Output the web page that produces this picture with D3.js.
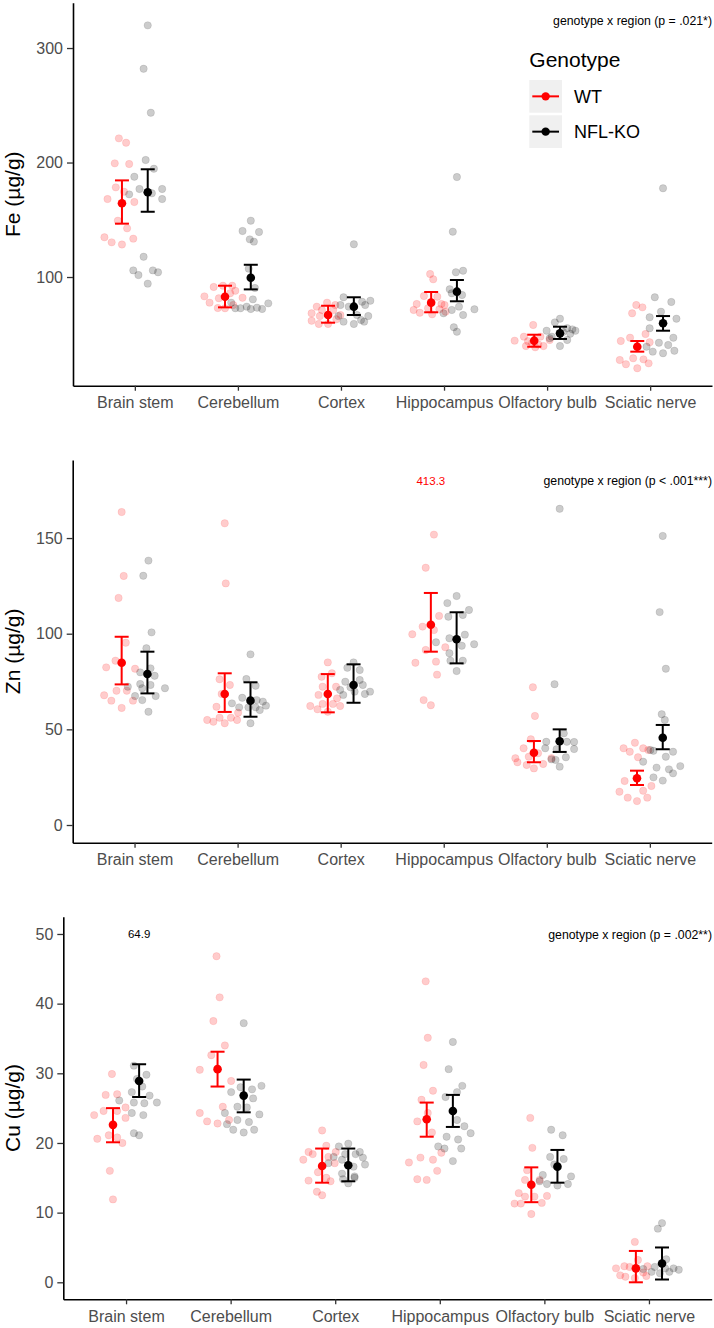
<!DOCTYPE html>
<html>
<head>
<meta charset="utf-8">
<script src="https://cdn.jsdelivr.net/npm/d3@7"></script>
<style>
body{margin:0;background:#fff;}
text{font-family:"Liberation Sans",Arial,sans-serif;}
</style>
</head>
<body>
<script>
// ---------- categories ----------
const regions = ["Brain stem","Cerebellum","Cortex","Hippocampus","Olfactory bulb","Sciatic nerve"];
const genotypes = ["WT","NFL-KO"];
const genotypeColors = ["#ff0000","#000000"];

// ---------- Fe ----------
const feTicks = [100,200,300];
const feDomain = [5.07,339.6];
const feWT = [
 [221.1,217.3,199.3,198.7,178.3,174.5,168.1,165.5,149.2,142.5,134.7,130.3,128.4,133.5],
 [91.3,92.4,92.4,88.0,83.1,81.4,77.6,72.9,72.7,75.5,81.9,85.8],
 [74.1,77.6,75.5,68.3,71.2,61.8,59.0,59.0,63.1,66.8,71.2,65.9],
 [102.6,98.0,83.4,82.8,76.4,76.4,71.2,68.8,67.4,71.8,72.7,75.5,69.7],
 [58.1,44.4,47.9,39.7,38.6,39.7,47.9,45.0,42.1,44.0,41.0],
 [75.5,73.5,68.3,44.1,47.0,50.2,43.0,27.5,23.8,29.0,20.3,28.1,24.6]
];
const feWTJitter = [
 [-.03,.04,-.07,.07,-.06,.02,-.14,.12,-.04,.05,-.17,-.10,.00,.11],
 [-.11,-.02,.07,.10,-.20,-.06,-.15,-.07,.00,.08,.17,.05],
 [-.11,-.01,.07,-.16,-.06,-.16,-.09,.00,.08,.12,.05,-.08],
 [-.01,.02,-.07,.06,-.14,.10,-.17,-.11,.01,.08,-.03,.13,.14],
 [-.01,-.19,-.10,-.08,.01,.09,.06,.15,-.02,-.06,.04],
 [-.01,.05,-.05,-.16,-.07,.08,.12,-.17,-.11,-.04,.00,.06,.11]
];
const feKO = [
 [319.8,281.9,243.5,202.2,194.6,187.6,176.9,176.9,172.2,173.1,168.1,117.7,105.8,101.7,105.8,104.1,94.2],
 [149.2,140.2,139.3,132.9,130.9,107.3,90.4,80.5,77.6,72.7,72.7,74.1,72.1,73.2,72.1,77.0],
 [128.6,82.3,79.3,78.4,74.1,75.5,75.5,65.9,62.4,59.0,61.0,65.9,66.8,61.0],
 [187.3,139.6,105.5,104.1,89.3,84.3,85.8,71.8,68.3,71.2,66.8,74.1,56.1,52.2],
 [63.6,60.4,53.1,54.3,53.1,55.3,46.5,45.0,39.7,47.9,50.5,52.0],
 [177.5,82.3,78.2,69.7,64.8,63.6,55.2,47.0,42.6,40.6,34.8,33.4,35.6,39.1]
];
const feKOJitter = [
 [.00,-.04,.03,-.02,.06,-.13,-.08,.14,-.18,.04,.14,-.04,-.14,-.09,.05,.10,.00],
 [.00,-.08,.08,-.01,.03,-.02,.04,.02,-.19,-.15,-.10,-.04,.00,.06,.11,.17],
 [.00,-.10,.16,.08,-.05,.11,-.13,.14,.07,.00,-.10,-.15,.03,.10],
 [.00,-.04,.06,-.01,-.07,.05,-.05,.17,-.13,-.05,.06,.02,-.03,.00],
 [.00,-.05,-.13,.12,.15,.07,-.10,.07,.00,-.08,.10,.03],
 [.00,-.08,.08,-.02,-.13,.13,-.13,.10,-.04,.05,-.10,.00,.11,-.16]
];
const feWTMean = [164.4,82.8,66.8,77.6,44.4,39.1];
const feWTLow  = [146.6,73.5,60.1,69.2,39.1,34.8];
const feWTHigh = [184.4,92.4,74.9,86.9,49.6,44.1];
const feKOMean = [174.0,99.4,74.1,87.2,50.8,59.6];
const feKOLow  = [157.0,89.2,66.8,78.8,45.9,53.1];
const feKOHigh = [194.1,110.7,82.3,97.4,56.6,65.9];

// ---------- Zn ----------
const znTicks = [0,50,100,150];
const znDomain = [-9.25,190.8];
const znWT = [
 [163.6,130.2,118.7,95.3,85.9,82.4,81.7,70.2,70.2,67.8,65.0,61.2,65.0],
 [157.7,126.3,76.2,73.2,68.5,61.8,58.7,54.9,54.0,56.1,53.2,56.1,54.9],
 [85.0,79.3,77.5,72.3,72.3,68.0,66.2,62.2,63.3,63.3,60.5,59.2,62.2],
 [151.8,134.5,109.3,103.7,101.9,99.7,91.5,92.9,84.8,85.4,78.6,65.3,62.6],
 [72.0,57.0,44.8,34.9,32.8,31.4,29.6,31.9,34.9,35.7,37.5,40.1],
 [43.0,40.1,38.3,40.1,39.2,35.4,23.0,20.4,17.9,17.4,14.3,12.5,14.3]
];
const znWTJitter = [
 [.00,.02,-.03,.04,-.06,-.15,.13,.05,-.05,-.17,-.10,.00,.11],
 [.00,.01,-.05,.05,-.03,-.08,.13,-.17,-.11,-.05,.00,.06,.12],
 [.00,.04,-.06,-.05,.08,-.09,.09,-.17,-.05,.05,-.10,.00,.12],
 [.03,-.05,.08,-.08,.03,-.18,-.05,.14,-.15,.05,.06,-.07,.00],
 [-.01,.01,-.03,-.18,-.16,-.07,.00,.09,.17,-.05,.04,-.10],
 [-.02,-.13,-.07,.06,.11,.01,-.12,.14,.06,-.17,-.09,.00,.10]
];
const znKO = [
 [138.2,130.3,100.7,92.4,81.9,79.8,78.0,73.7,73.2,71.5,71.5,67.4,67.4,65.3,59.2,72.3],
 [89.2,76.3,72.8,66.5,63.6,64.5,65.3,61.5,61.5,60.1,62.4,61.5,53.2],
 [85.0,82.2,81.0,75.8,74.9,73.2,70.6,69.7,69.7,68.5,68.0,72.0],
 [119.7,116.0,112.4,108.9,109.8,99.5,97.6,95.5,93.7,94.5,89.8,85.9,85.9,80.5],
 [165.3,73.6,47.9,43.5,43.5,43.4,40.1,39.6,39.7,34.3,35.4,34.0,30.5],
 [151.1,111.3,81.7,57.9,54.9,39.2,38.8,38.3,33.1,35.7,30.8,30.0,29.1,27.0,24.9,23.2]
];
const znKOJitter = [
 [.01,-.04,.04,-.01,.03,-.07,.07,-.07,.03,-.05,.17,.08,-.12,-.05,.01,-.19],
 [.00,-.04,.05,-.08,-.18,.12,.06,-.11,-.02,.09,.15,.05,.00],
 [.00,-.06,.06,.06,-.08,.09,-.13,.16,.01,.11,-.10,-.03],
 [.00,-.09,.12,-.08,.06,.08,-.07,-.20,.05,.17,-.07,-.06,.06,.00],
 [.00,-.05,.04,-.13,.07,.14,-.14,-.03,.14,-.08,.06,-.04,.00],
 [.00,-.03,.03,-.01,.02,-.12,-.09,.10,-.19,.03,.17,-.06,.06,.10,-.09,.00]
];
const znWTMean = [84.8,68.5,68.5,104.7,37.8,24.4];
const znWTLow  = [73.5,59.1,58.9,90.6,32.8,20.9];
const znWTHigh = [98.4,79.3,78.9,121.3,43.9,28.4];
const znKOMean = [78.9,65.0,73.2,97.1,43.8,45.6];
const znKOLow  = [68.8,56.6,63.9,84.5,38.2,39.6];
const znKOHigh = [90.6,74.6,84.0,111.2,50.0,52.3];

// ---------- Cu ----------
const cuTicks = [0,10,20,30,40,50];
const cuDomain = [-2.44,52.48];
const cuWT = [
 [29.9,26.9,27.0,24.0,24.6,24.6,25.1,23.6,20.6,21.1,20.8,20.0,16.0,11.9],
 [46.8,40.9,37.5,34.0,32.6,30.5,28.9,25.2,24.3,23.3,23.1,22.8],
 [21.8,19.6,18.7,18.4,18.7,17.6,17.1,15.8,15.0,14.6,14.5,13.0,12.5,18.0],
 [43.2,35.1,31.2,27.5,26.2,24.3,23.1,21.5,18.6,17.9,17.6,17.2,16.0,14.8,14.7],
 [23.6,19.3,16.1,14.7,14.7,12.8,12.3,12.3,12.4,11.3,11.3,11.4,9.8],
 [5.8,2.0,2.3,3.2,2.3,1.0,0.8,0.9,0.6,2.2,1.4]
];
const cuWTJitter = [
 [-.01,-.07,.04,-.18,-.09,.04,.12,.12,-.15,-.04,.04,.09,-.03,.00],
 [-.01,.02,-.04,.07,-.06,-.17,.13,.05,-.17,.11,-.10,.00],
 [.00,.04,-.13,-.09,.13,-.18,.12,-.04,.04,-.13,.08,-.05,.00,.06],
 [-.01,.01,-.03,.06,-.05,.01,-.09,.05,.14,-.06,.06,-.17,.10,-.09,.00],
 [-.01,.01,-.04,-.06,.08,-.12,-.06,.03,.15,-.16,-.10,.10,.00],
 [-.01,-.19,-.11,.02,.11,-.15,-.10,.10,-.01,-.06,.07]
];
const cuKO = [
 [31.1,29.2,29.8,27.3,28.1,26.8,26.1,25.8,25.7,25.8,24.3,24.0,21.4,21.1],
 [37.2,28.0,27.7,28.2,27.3,26.4,25.2,25.1,24.3,24.1,23.3,23.0,22.7,21.9,21.5,21.9],
 [19.9,19.5,18.4,18.4,18.0,17.1,17.6,16.6,15.6,15.0,14.8,14.2,18.7,17.9,16.9,15.2],
 [34.5,30.6,28.2,26.6,27.3,23.3,22.4,21.4,20.9,20.5,19.5,19.2,19.2,17.4],
 [21.9,21.1,18.0,17.7,16.9,15.4,15.2,14.5,14.1,13.9,14.1],
 [8.5,7.7,3.3,1.8,1.9,2.2,1.5,2.0,1.5,1.3,2.0]
];
const cuKOJitter = [
 [-.05,-.02,.07,-.07,.03,.10,-.19,-.05,.05,.17,-.07,.04,-.05,.00],
 [.00,-.03,.08,.17,-.12,.09,-.06,.03,-.18,.15,-.06,.05,-.16,-.10,.00,.10],
 [.00,-.09,.07,-.03,-.14,-.19,-.06,.05,-.06,.06,-.05,.00,.11,.14,.16,.06],
 [.00,-.04,.09,-.07,.04,.04,.11,.17,-.06,.05,-.14,-.08,.08,.00],
 [-.06,.05,-.07,.06,-.03,-.14,.13,-.17,-.10,.00,.10],
 [.00,-.04,.04,.16,-.18,-.07,.07,.03,-.10,-.02,.11]
];
const cuWTMean = [22.6,30.6,16.7,23.4,14.0,2.0];
const cuWTLow  = [20.1,28.1,14.3,20.9,11.5,0.0];
const cuWTHigh = [25.0,33.1,19.2,25.8,16.5,4.5];
const cuKOMean = [28.9,26.8,16.8,24.6,16.6,2.7];
const cuKOLow  = [26.6,24.4,14.5,22.3,14.3,0.4];
const cuKOHigh = [31.3,29.1,19.2,26.9,19.0,5.0];

// ---------- annotations ----------
const annotations = ["genotype x region (p = .021*)","genotype x region (p < .001***)","genotype x region (p = .002**)"];
// off-scale outliers: [region, genotype index, real value, value where label is drawn]
const znOutliers = [["Hippocampus",0,"413.3",180]];
const cuOutliers = [["Brain stem",1,"64.9",50]];

// ---------- layout ----------
const W = 714, H = 1328;
const svg = d3.select("body").append("svg").attr("width",W).attr("height",H);

const panels = [
 {title:"Fe (\u00b5g/g)", x0:73, x1:712, yTop:2.7, yBot:385.7, domain:feDomain, ticks:feTicks,
  vals:[feWT,feKO], jit:[feWTJitter,feKOJitter], mean:[feWTMean,feKOMean], lo:[feWTLow,feKOLow], hi:[feWTHigh,feKOHigh],
  note:annotations[0], noteY:25, outliers:[], legend:true},
 {title:"Zn (\u00b5g/g)", x0:72.7, x1:711.7, yTop:460, yBot:842.7, domain:znDomain, ticks:znTicks,
  vals:[znWT,znKO], jit:[znWTJitter,znKOJitter], mean:[znWTMean,znKOMean], lo:[znWTLow,znKOLow], hi:[znWTHigh,znKOHigh],
  note:annotations[1], noteY:485, outliers:znOutliers, legend:false},
 {title:"Cu (\u00b5g/g)", x0:63.3, x1:711.7, yTop:916.7, yBot:1299.3, domain:cuDomain, ticks:cuTicks,
  vals:[cuWT,cuKO], jit:[cuWTJitter,cuKOJitter], mean:[cuWTMean,cuKOMean], lo:[cuWTLow,cuKOLow], hi:[cuWTHigh,cuKOHigh],
  note:annotations[2], noteY:939, outliers:cuOutliers, legend:false}
];

panels.forEach(p=>{
  const x = d3.scalePoint().domain(regions).range([p.x0,p.x1]).padding(0.6);
  const step = x.step();
  const y = d3.scaleLinear().domain(p.domain).range([p.yBot,p.yTop]);
  const dodge = gi => (gi===0?-1:1)*0.125*step;
  const g = svg.append("g");

  // axes
  const xa = g.append("g").attr("transform",`translate(0,${p.yBot})`)
    .call(d3.axisBottom(x).tickSize(5).tickPadding(6).tickSizeOuter(0));
  const ya = g.append("g").attr("transform",`translate(${p.x0},0)`)
    .call(d3.axisLeft(y).tickValues(p.ticks).tickFormat(d3.format("d")).tickSize(6).tickPadding(4).tickSizeOuter(0));
  [xa,ya].forEach(a=>{
    a.select(".domain").attr("stroke","#000").attr("stroke-width",1.6);
    a.selectAll(".tick line").attr("stroke","#333").attr("stroke-width",1.3);
    a.selectAll(".tick text").attr("fill","#4d4d4d").style("font-size","16px")
      .style("font-family","'Liberation Sans',Arial,sans-serif");
  });

  // y title
  g.append("text")
    .attr("transform",`translate(19.5,${(p.yTop+p.yBot)/2}) rotate(-90)`)
    .attr("text-anchor","middle").style("font-size","21px").attr("fill","#000")
    .text(p.title);

  // jittered points
  genotypes.forEach((gt,gi)=>{
    const col = genotypeColors[gi];
    regions.forEach((r,ri)=>{
      const vals = p.vals[gi][ri], jit = p.jit[gi][ri];
      g.append("g").selectAll("circle").data(vals).join("circle")
        .attr("cx",(v,k)=>x(r)+dodge(gi)+jit[k]*step)
        .attr("cy",v=>y(v))
        .attr("r",3.7)
        .attr("fill",col).attr("fill-opacity",0.2)
        .attr("stroke",col).attr("stroke-opacity",0.12).attr("stroke-width",0.8);
    });
  });

  // error bars & means
  genotypes.forEach((gt,gi)=>{
    const col = genotypeColors[gi];
    regions.forEach((r,ri)=>{
      const cx = x(r)+dodge(gi);
      const eg = g.append("g").attr("stroke",col).attr("stroke-width",2);
      eg.append("line").attr("x1",cx).attr("x2",cx).attr("y1",y(p.lo[gi][ri])).attr("y2",y(p.hi[gi][ri]));
      eg.append("line").attr("x1",cx-7).attr("x2",cx+7).attr("y1",y(p.lo[gi][ri])).attr("y2",y(p.lo[gi][ri]));
      eg.append("line").attr("x1",cx-7).attr("x2",cx+7).attr("y1",y(p.hi[gi][ri])).attr("y2",y(p.hi[gi][ri]));
      g.append("circle").attr("cx",cx).attr("cy",y(p.mean[gi][ri])).attr("r",4.3).attr("fill",col);
    });
  });

  // outlier labels
  p.outliers.forEach(o=>{
    g.append("text").attr("x",x(o[0])+dodge(o[1])).attr("y",y(o[3])+4)
      .attr("text-anchor","middle").style("font-size","11.5px").attr("fill",genotypeColors[o[1]])
      .text(o[2]);
  });

  // annotation
  g.append("text").attr("x",712).attr("y",p.noteY).attr("text-anchor","end")
    .style("font-size","12.3px").attr("fill","#000").text(p.note);

  // legend
  if(p.legend){
    const lg = svg.append("g").attr("transform","translate(529.3,0)");
    lg.append("text").attr("x",0).attr("y",67).style("font-size","21px").attr("fill","#000").text("Genotype");
    genotypes.forEach((gt,gi)=>{
      const ky = 80 + gi*35.3;
      lg.append("rect").attr("x",0).attr("y",ky).attr("width",32.7).attr("height",32.7).attr("fill","#f0f0f0");
      lg.append("line").attr("x1",3).attr("x2",29.7).attr("y1",ky+16.35).attr("y2",ky+16.35)
        .attr("stroke",genotypeColors[gi]).attr("stroke-width",2);
      lg.append("circle").attr("cx",16.35).attr("cy",ky+16.35).attr("r",4.2).attr("fill",genotypeColors[gi]);
      lg.append("text").attr("x",44.7).attr("y",ky+23).style("font-size","18px").attr("fill","#000").text(gt);
    });
  }
});
</script>
</body>
</html>
